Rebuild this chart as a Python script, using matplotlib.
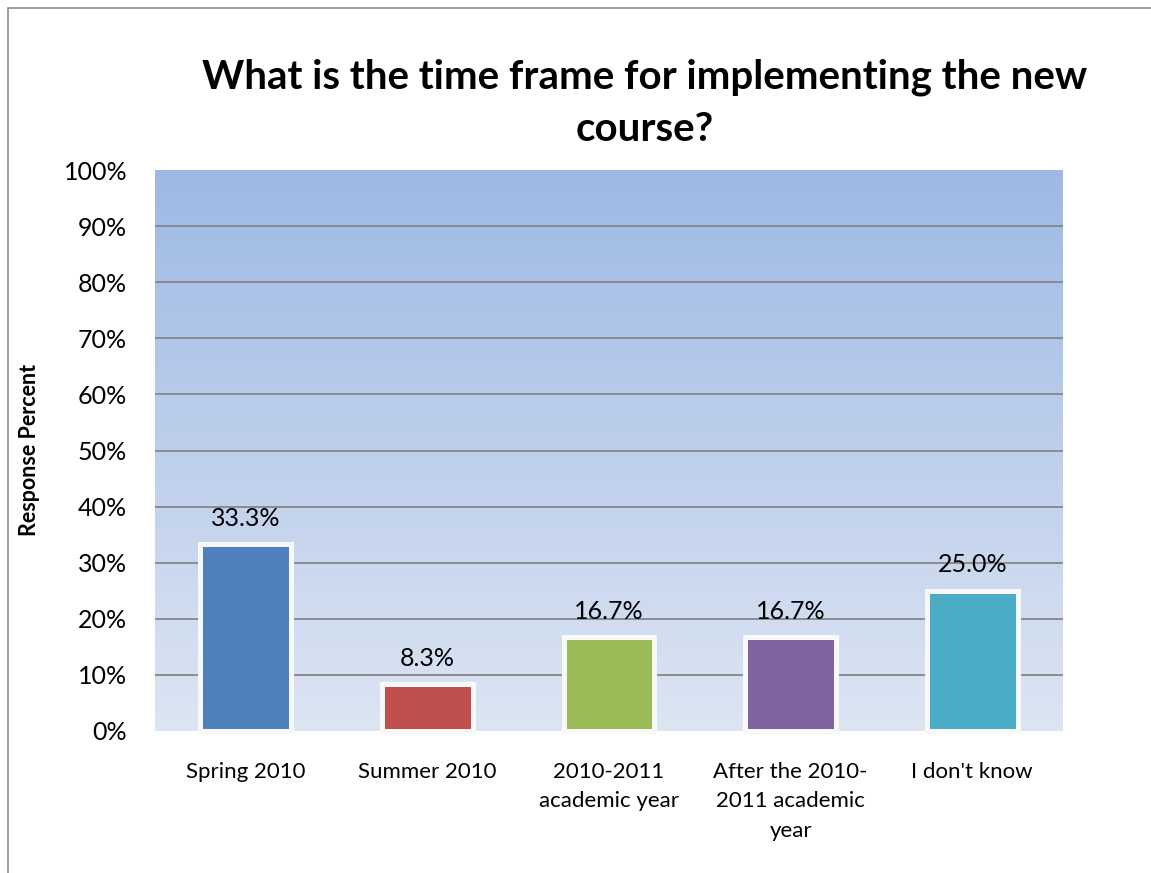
import matplotlib.pyplot as plt
import numpy as np
from matplotlib.patches import Rectangle
from matplotlib.colors import LinearSegmentedColormap

categories = ["Spring 2010", "Summer 2010", "2010-2011\nacademic year",
              "After the 2010-\n2011 academic\nyear", "I don't know"]
values = [33.3, 8.3, 16.7, 16.7, 25.0]
colors = ["#4F81BD", "#C0504D", "#9BBB59", "#8064A2", "#4BACC6"]
yticks = [0, 10, 20, 30, 40, 50, 60, 70, 80, 90, 100]

plt.rcParams['font.family'] = ['Lato', 'DejaVu Sans']

fig = plt.figure(figsize=(11.51, 8.73), dpi=100)
W, H = 1151, 873
ax = fig.add_axes([155 / W, 1 - 731 / H, (1063 - 155) / W, (731 - 170) / H])

# gradient background
grad = LinearSegmentedColormap.from_list("bg", ["#DDE5F3", "#9DB9E4"])
ax.imshow(np.linspace(0, 1, 256).reshape(-1, 1), cmap=grad, aspect="auto",
          extent=[0, 1, 0, 1], transform=ax.transAxes, origin="lower", zorder=0)

x = np.arange(len(categories))
ax.set_xlim(-0.5, len(categories) - 0.5)
ax.set_ylim(0, 100)

for t in yticks[1:-1]:
    ax.axhline(t, color="#868686", lw=1.3, zorder=1)

bars = ax.bar(x, values, width=0.5, color=colors, edgecolor="#F8F8F8",
              linewidth=3.6, zorder=2, clip_on=False)
for xi, v in zip(x, values):
    ax.text(xi, v + 2.6, f"{v:.1f}%", ha="center", va="bottom", fontsize=18, zorder=3)

ax.set_yticks(yticks)
ax.set_yticklabels([f"{t}%" for t in yticks], fontsize=18)
ax.set_xticks(x)
ax.set_xticklabels(categories, fontsize=16, linespacing=1.6)
ax.tick_params(length=0)
ax.tick_params(axis="x", pad=22)
ax.tick_params(axis="y", pad=20)
for s in ax.spines.values():
    s.set_visible(False)

fig.text(30 / W, 1 - 450 / H, "Response Percent", rotation=90, ha="center", va="center",
         fontsize=15.5, fontweight="bold")

fig.text(645 / W, 1 - 103 / H, "What is the time frame for implementing the new\ncourse?",
         ha="center", va="center", fontsize=29, fontweight="bold", linespacing=1.5)

fig.patches.append(Rectangle((8 / W, -0.1), 1.2, 1 - 8 / H + 0.1, transform=fig.transFigure,
                             fill=False, edgecolor="#8C8C8C", lw=1.2))

fig.savefig("out.png", dpi=100)
